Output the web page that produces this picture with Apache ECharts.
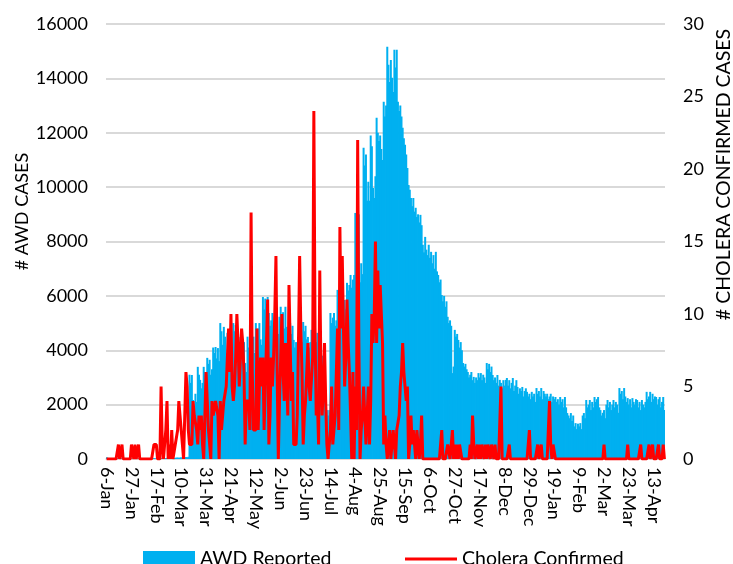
<!DOCTYPE html>
<html>
<head>
<meta charset="utf-8">
<script src="https://cdn.jsdelivr.net/npm/echarts@6/dist/echarts.min.js"></script>
<style>
  html, body { margin: 0; padding: 0; background: #fff; }
  #chart { width: 733px; height: 564px; }
</style>
</head>
<body>
<div id="chart"></div>
<script>
// daily series, first day is 6-Jan
const startDate = [2017, 0, 6];
const monthNames = ['Jan', 'Feb', 'Mar', 'Apr', 'May', 'Jun', 'Jul', 'Aug', 'Sep', 'Oct', 'Nov', 'Dec'];

const awdReported = [
  60, 40, 30, 20, 25, 30, 20,
  15, 20, 25, 20, 15, 10, 20,
  20, 15, 10, 15, 20, 25, 15,
  10, 15, 20, 15, 10, 20, 15,
  20, 25, 15, 10, 15, 20, 25,
  30, 20, 15, 20, 25, 30, 20,
  25, 30, 35, 25, 30, 35, 40,
  30, 35, 40, 45, 35, 40, 45,
  50, 40, 45, 50, 55, 45, 50,
  60, 50, 55, 60, 70, 60, 80,
  3100, 2800, 3090, 2170, 1900, 2400, 2100,
  3390, 3100, 2910, 2600, 2800, 3390, 3200,
  2900, 3720, 3500, 3650, 3100, 3300, 4100,
  3900, 4120, 3700, 4080, 3600, 5000, 4700,
  4200, 4860, 4500, 3900, 4640, 4300, 3800,
  4380, 4000, 5000, 4700, 4930, 4300, 4600,
  4100, 4490, 4200, 3900, 4300, 3530, 3200,
  4500, 4100, 4400, 4750, 4200, 4500, 3900,
  5000, 4600, 4800, 5000, 4400, 4200, 5960,
  5500, 5900, 5200, 5960, 5370, 4900, 5100,
  5370, 4800, 5230, 4900, 5100, 4600, 5230,
  5600, 5200, 5400, 4800, 5600, 4860, 4400,
  4700, 5000, 4600, 4900, 4380, 4100, 4300,
  3900, 4380, 4200, 4000, 4300, 5040, 4700,
  4900, 4400, 4490, 4100, 4300, 4750, 4400,
  4600, 4750, 4300, 4640, 4200, 4500, 4640,
  3800, 2430, 2100, 2400, 1800, 1600, 1800,
  5370, 5000, 5200, 5370, 4900, 5100, 6220,
  5800, 6220, 6000, 5850, 5400, 5850, 5500,
  6480, 6200, 6400, 6770, 6300, 6600, 6770,
  9050, 8500, 9240, 9000, 6500, 7200, 6800,
  11450, 10800, 11200, 9500, 10200, 9500, 11900,
  11500, 9970, 9600, 10400, 12550, 12000, 11700,
  11900, 11400, 11000, 13140, 12600, 13000, 15160,
  14500, 13870, 14680, 14020, 13500, 15050, 14400,
  15050, 13140, 12800, 13000, 12600, 12180, 11800,
  11560, 11200, 10700, 10080, 9900, 9600, 9300,
  9600, 9100, 9240, 8900, 9000, 8700, 8980,
  8600, 7880, 7600, 8170, 7700, 7500, 7880,
  7400, 7620, 7200, 7500, 7000, 7620, 6900,
  6770, 6500, 6600, 6030, 5800, 6000, 5600,
  5800, 5230, 5000, 5100, 4900, 3160, 3400,
  4750, 4500, 4600, 4380, 4100, 4300, 4000,
  3530, 3400, 3500, 3300, 3200, 3000, 3100,
  3200, 2900, 3020, 2800, 3000, 2900, 3160,
  3000, 3160, 2900, 3100, 3000, 2800, 3530,
  3300, 3500, 3200, 3400, 3090, 2900, 3000,
  2800, 3090, 2700, 2910, 2800, 2600, 2900,
  2700, 2910, 2980, 2700, 2900, 2600, 2800,
  2980, 2500, 2700, 2900, 2650, 2400, 2600,
  2500, 2650, 2300, 2500, 2600, 2470, 2300,
  2400, 2200, 2470, 2300, 2400, 2100, 2610,
  2400, 2500, 2300, 2610, 2200, 2500, 2400,
  2300, 2400, 2200, 2300, 2400, 2100, 2300,
  2200, 2280, 2100, 2200, 2000, 2280, 2100,
  2200, 1900, 2280, 1900, 1690, 1600, 1500,
  1690, 1400, 1600, 1200, 1320, 1100, 1300,
  1200, 1320, 1100, 1600, 1690, 1500, 2170,
  1900, 2000, 2170, 1800, 2100, 1900, 2280,
  2100, 2200, 2280, 1900, 1800, 1600, 1700,
  1800, 1500, 2000, 2170, 1900, 2100, 1800,
  2000, 2170, 1900, 2100, 2000, 1700, 2610,
  2400, 2500, 2200, 2610, 2300, 2100, 2240,
  2000, 2200, 1900, 2240, 2100, 2000, 2200,
  2170, 1900, 2100, 1800, 2170, 2000, 1900,
  2100, 2470, 2200, 2300, 2470, 2100, 2400,
  2200, 2300, 2280, 2000, 2200, 2280, 1900,
  2100, 2280, 1800
];

const choleraConfirmed = [
  0, 0, 0, 0, 0, 0, 0,
  0, 0, 0, 1, 0, 0, 1,
  0, 0, 0, 0, 0, 0, 0,
  1, 1, 0, 1, 0, 0, 1,
  0, 0, 0, 0, 0, 0, 0,
  0, 0, 0, 0, 0, 1, 1,
  1, 0, 0, 0, 5, 1, 0,
  0, 2, 4, 0, 1, 0, 2,
  0, 0, 1, 1, 2, 4, 3,
  2, 2, 0, 3, 6, 5, 2,
  1, 1, 1, 4, 3, 3, 2,
  1, 3, 2, 3, 1, 0, 3,
  6, 4, 2, 1, 0, 4, 3,
  3, 4, 4, 3, 0, 4, 2,
  2, 4, 4, 5, 5, 9, 6,
  10, 5, 4, 5, 7, 10, 8,
  5, 7, 9, 8, 6, 1, 4,
  4, 4, 2, 17, 6, 2, 2,
  2, 9, 2, 5, 7, 5, 7,
  2, 5, 8, 11, 1, 3, 7,
  5, 7, 10, 14, 6, 0, 4,
  7, 10, 6, 4, 8, 6, 3,
  12, 8, 4, 6, 1, 1, 1,
  3, 8, 14, 9, 6, 1, 3,
  4, 6, 8, 5, 4, 4, 7,
  24, 9, 3, 4, 1, 13, 6,
  3, 5, 8, 4, 1, 0, 0,
  2, 5, 1, 1, 3, 6, 9,
  2, 16, 9, 14, 9, 5, 7,
  11, 8, 6, 3, 0, 6, 0,
  5, 2, 22, 8, 0, 2, 3,
  5, 3, 1, 3, 5, 1, 4,
  10, 8, 10, 15, 8, 13, 9,
  12, 10, 8, 1, 3, 1, 0,
  1, 2, 0, 1, 2, 1, 0,
  2, 2, 3, 5, 6, 8, 6,
  5, 4, 5, 0, 1, 3, 1,
  2, 1, 0, 2, 1, 0, 1,
  3, 0, 0, 0, 0, 0, 0,
  0, 0, 0, 0, 0, 0, 0,
  0, 0, 1, 2, 0, 0, 0,
  0, 1, 1, 0, 1, 2, 0,
  1, 0, 1, 0, 1, 1, 0,
  0, 0, 0, 0, 0, 0, 1,
  0, 3, 1, 0, 0, 1, 0,
  1, 0, 1, 1, 0, 1, 0,
  1, 1, 0, 1, 1, 0, 1,
  0, 0, 0, 0, 5, 0, 0,
  0, 0, 0, 0, 1, 0, 0,
  0, 0, 0, 0, 0, 0, 0,
  0, 0, 0, 0, 0, 0, 0,
  2, 0, 0, 0, 0, 0, 0,
  1, 0, 0, 1, 0, 0, 0,
  0, 0, 0, 4, 1, 0, 1,
  1, 0, 0, 0, 0, 0, 0,
  0, 0, 0, 0, 0, 0, 0,
  0, 0, 0, 0, 0, 0, 0,
  0, 0, 0, 0, 0, 0, 0,
  0, 0, 0, 0, 0, 0, 0,
  0, 0, 0, 0, 0, 0, 0,
  1, 0, 0, 0, 0, 0, 0,
  0, 0, 0, 0, 0, 0, 0,
  0, 0, 0, 0, 0, 0, 1,
  0, 0, 0, 0, 0, 0, 0,
  0, 0, 0, 1, 0, 0, 0,
  0, 0, 0, 1, 0, 0, 1,
  0, 0, 0, 0, 1, 0, 0,
  0, 1, 0
];

// category labels like "6-Jan"
const days = awdReported.map((_, i) => {
  const d = new Date(startDate[0], startDate[1], startDate[2] + i);
  return d.getDate() + '-' + monthNames[d.getMonth()];
});

const font = 'Lato';
const textColor = '#000';
const gridColor = '#D9D9D9';
const awdColor = '#00B0F0';
const choleraColor = '#FF0000';

const legendText = { fontFamily: font, fontSize: 19.5, color: textColor };
const plainNumber = v => String(v);

const chart = echarts.init(document.getElementById('chart'));
chart.setOption({
  animation: false,
  textStyle: { fontFamily: font },
  // fixed plot area, don't let the axis names push it inwards
  grid: { left: 106, right: 68, top: 24, bottom: 105, outerBoundsMode: 'none' },
  // two legends so the line key can be a thin bar
  legend: [
    {
      left: 138,
      top: 544,
      itemWidth: 52,
      itemHeight: 16,
      icon: 'rect',
      textStyle: legendText,
      data: ['AWD Reported'],
    },
    {
      left: 400,
      top: 544,
      itemWidth: 52,
      itemHeight: 3,
      icon: 'rect',
      textStyle: legendText,
      data: ['Cholera Confirmed'],
    },
  ],
  xAxis: {
    type: 'category',
    data: days,
    axisLine: { lineStyle: { color: gridColor, width: 1.5 } },
    axisTick: { interval: 20, alignWithLabel: true, length: 4, lineStyle: { color: gridColor } },
    axisLabel: {
      interval: 20,
      rotate: -90,
      margin: 8,
      fontFamily: font,
      fontSize: 18,
      color: textColor,
    },
  },
  yAxis: [
    {
      type: 'value',
      min: 0,
      max: 16000,
      interval: 2000,
      name: '# AWD CASES',
      nameLocation: 'middle',
      nameRotate: 90,
      nameGap: 75,
      nameMoveOverlap: false,
      nameTextStyle: { fontFamily: font, fontSize: 18, color: textColor, padding: [0, 0, 0, 60] },
      axisLine: { show: false },
      axisTick: { show: false },
      axisLabel: { margin: 18, fontFamily: font, fontSize: 18, color: textColor, formatter: plainNumber },
      splitLine: { lineStyle: { color: gridColor, width: 2 } },
    },
    {
      type: 'value',
      min: 0,
      max: 30,
      interval: 5,
      name: '# CHOLERA CONFIRMED CASES',
      nameLocation: 'middle',
      nameRotate: 90,
      nameGap: 49,
      nameMoveOverlap: false,
      nameTextStyle: { fontFamily: font, fontSize: 19.5, color: textColor, padding: [0, 0, 0, 134] },
      axisLine: { show: false },
      axisTick: { show: false },
      axisLabel: { margin: 18, fontFamily: font, fontSize: 18, color: textColor, formatter: plainNumber },
      splitLine: { show: false },
    },
  ],
  series: [
    {
      name: 'AWD Reported',
      type: 'bar',
      data: awdReported,
      barWidth: 2, // a little wider than a day so the columns read as one solid fill
      itemStyle: { color: awdColor },
    },
    {
      name: 'Cholera Confirmed',
      type: 'line',
      yAxisIndex: 1,
      data: choleraConfirmed,
      symbol: 'none',
      z: 3,
      lineStyle: { color: choleraColor, width: 3 },
      itemStyle: { color: choleraColor },
    },
  ],
});
</script>
</body>
</html>
